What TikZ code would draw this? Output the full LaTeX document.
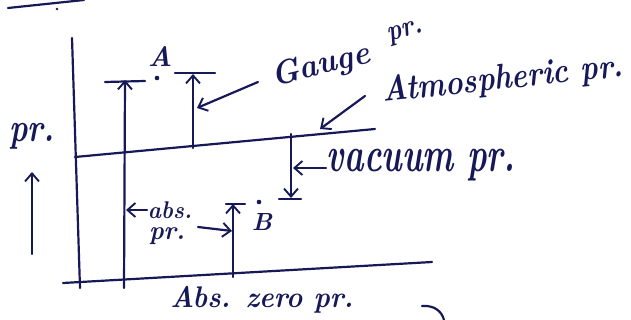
\documentclass[tikz,border=0pt]{standalone}
\usetikzlibrary{arrows.meta}
\definecolor{ink}{RGB}{22,24,88}
\begin{document}
\begin{tikzpicture}[x=1pt,y=-1pt,
  pen/.style={draw=ink,line width=2.2pt,line cap=round,line join=round},
  arr/.style={pen,-{Straight Barb[length=8pt,width=14pt,line width=1.9pt]}},
  lbl/.style={text=ink,inner sep=0pt,font=\bfseries\itshape}]
\useasboundingbox (0,0) rectangle (631,320);
% frame lines
\coordinate (t1) at (8,8); \coordinate (t2) at (84,0);
\draw[pen] (t1) -- (t2);
\fill[ink] (57,9) circle (1.3pt);
\coordinate (axTop) at (72,38); \coordinate (axBot) at (80,288);
\draw[pen] (axTop) -- (axBot);
\coordinate (atmL) at (75,157); \coordinate (atmR) at (375,129);
\draw[pen] (atmL) -- (atmR);
\coordinate (zeroL) at (63,283); \coordinate (zeroR) at (432,262);
\draw[pen] (zeroL) -- (zeroR);
% point A
\coordinate (absAbot) at (124,288); \coordinate (absAtop) at (125,80);
\draw[arr] (absAbot) -- (absAtop);
\coordinate (tickA1) at (105,82); \coordinate (tickA2) at (145,81);
\draw[pen] (tickA1) -- (tickA2);
\fill[ink] (157,78) circle (2.3pt);
\node[lbl] (A) at (160,57) {\resizebox*{!}{20pt}{A}};
\coordinate (tickG1) at (175,73); \coordinate (tickG2) at (215,73);
\draw[pen] (tickG1) -- (tickG2);
\coordinate (gBot) at (193,148); \coordinate (gTop) at (193,74);
\draw[arr] (gBot) -- (gTop);
% gauge label
\node[lbl,rotate=14] (gauge) at (321,66) {\resizebox*{100pt}{30pt}{Gauge}};
\node[lbl,rotate=16] (gaugepr) at (406,33) {\resizebox*{36pt}{19pt}{pr.}};
\coordinate (gL1) at (258,82); \coordinate (gL2) at (197,108);
\draw[arr] (gL1) -- (gL2);
% atmospheric label
\node[lbl,rotate=6] (atm) at (503,80) {\resizebox*{242pt}{32pt}{Atmospheric pr.}};
\coordinate (aL1) at (365,96); \coordinate (aL2) at (320,129);
\draw[arr] (aL1) -- (aL2);
% vacuum
\coordinate (vTop) at (291,134); \coordinate (vBot) at (291,198);
\draw[arr] (vTop) -- (vBot);
\coordinate (tickV1) at (279,199); \coordinate (tickV2) at (301,199);
\draw[pen] (tickV1) -- (tickV2);
\node[lbl] (vac) at (421,165) {\resizebox*{188pt}{32pt}{vacuum pr.}};
\coordinate (vL1) at (326,168); \coordinate (vL2) at (293,168);
\draw[arr] (vL1) -- (vL2);
% point B
\fill[ink] (259,202) circle (2.3pt);
\node[lbl] (B) at (262,222) {\resizebox*{!}{17pt}{B}};
\coordinate (bBot) at (233,277); \coordinate (bTop) at (233,204);
\draw[arr] (bBot) -- (bTop);
\coordinate (tickB1) at (226,204); \coordinate (tickB2) at (245,204);
\draw[pen] (tickB1) -- (tickB2);
% abs pr.
\node[lbl] (abs) at (170,210) {\resizebox*{44pt}{17pt}{abs.}};
\node[lbl] (absp) at (167,236) {\resizebox*{36pt}{17pt}{pr.}};
\coordinate (abL1) at (147,210); \coordinate (abL2) at (126,210);
\draw[arr] (abL1) -- (abL2);
\coordinate (apL1) at (198,227); \coordinate (apL2) at (232,231);
\draw[arr] (apL1) -- (apL2);
% zero
\node[lbl] (zero) at (262,300) {\resizebox*{183pt}{27pt}{Abs. zero pr.}};
% left
\node[lbl] (prL) at (32,136) {\resizebox*{45pt}{26pt}{pr.}};
\coordinate (upB) at (32,254); \coordinate (upT) at (32,172);
\draw[arr] (upB) -- (upT);
% stray curve
\coordinate (c1) at (422,306); \coordinate (c2) at (444,320);
\draw[pen] (c1) .. controls (435,305) and (442,312) .. (c2);
\end{tikzpicture}
\end{document}
